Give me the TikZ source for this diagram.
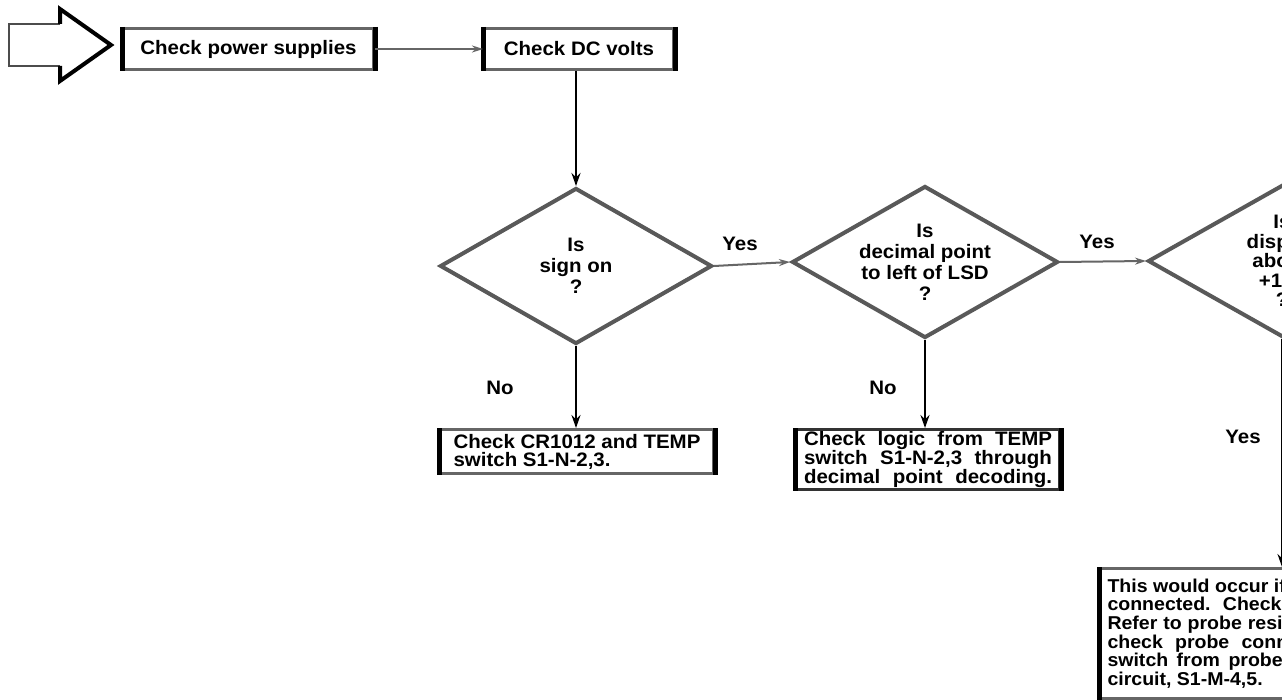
\documentclass[tikz,border=0pt]{standalone}
\usepackage{fontspec}
\setmainfont[FakeStretch=1.05]{Liberation Sans}
\usetikzlibrary{shapes.geometric,arrows.meta}
\begin{document}
\begin{tikzpicture}[x=1pt,y=-1pt,
  txt/.style={font=\bfseries\fontsize{19.5}{18}\selectfont},
  dtxt/.style={font=\bfseries\fontsize{19.5}{21}\selectfont, align=center, inner sep=0pt},
  box/.style={txt, draw=black!60, line width=3pt, inner sep=0pt, anchor=north west},
  boxside/.style={line width=5pt, black},
  dia/.style={diamond, draw=black!65, line width=4pt, inner sep=0pt,
     minimum width=272pt, minimum height=156pt},
  varrow/.style={line width=2.5pt, black, -{Stealth[length=13pt,width=9pt]}},
  harrow/.style={line width=2pt, black!60, -{Stealth[length=11pt,width=7pt]}},
  lab/.style={font=\bfseries\fontsize{19.5}{21}\selectfont, inner sep=0pt}]
\useasboundingbox (0,0) rectangle (1282,700);
\clip (0,0) rectangle (1282,700);
\fill[white] (0,0) rectangle (1282,700);

% entry arrow
\draw[black!70, line width=2.5pt, line join=miter]
  (60,24) -- (9,24) -- (9,66) -- (60,66);
\draw[black, line width=4pt, line join=miter]
  (60,24) -- (60,9) -- (111,45) -- (60,81) -- (60,66);

% boxes
\node[box, minimum width=250pt, minimum height=41pt] (b1) at (122,27) {Check power supplies};
\node[box, minimum width=189pt, minimum height=41pt] (b2) at (483,27) {Check DC volts};
\node[box, minimum width=273pt, minimum height=44pt, align=left] (b4) at (439,428)
  {Check CR1012 and TEMP\\switch S1-N-2,3.};
\node[box, draw=black!80, minimum width=263pt, minimum height=60pt, align=left] (b5) at (795,428)
  {\makebox[248pt][s]{Check logic from TEMP}\\
   \makebox[248pt][s]{switch S1-N-2,3 through}\\
   \makebox[248pt][s]{decimal point decoding.}};
\node[box, font=\bfseries\fontsize{18.6}{18.6}\selectfont, minimum width=310pt, minimum height=130pt,
      align=left, inner xsep=5pt] (b3) at (1099,567)
  {\makebox[296pt][s]{This would occur if probe is not}\\
   \makebox[296pt][s]{connected.\ \ Check probe cable.}\\
   \makebox[296pt][s]{Refer to probe resistance chart,}\\
   \makebox[296pt][s]{check probe connections and}\\
   \makebox[296pt][s]{switch from probe to the input}\\
   circuit, S1-M-4,5.};
\foreach \n in {b1,b2,b4,b5,b3}
  \draw[boxside] (\n.north west) -- (\n.south west) (\n.north east) -- (\n.south east);

% diamonds
\node[dia, label={[dtxt]center:Is\\sign on\\?}] (d1) at (576,266) {};
\node[dia, minimum width=266pt, minimum height=152pt,
      label={[dtxt]center:Is\\decimal point\\to left of LSD\\?}] (d2) at (925,262) {};
\node[dia, minimum width=268pt, minimum height=152pt,
      label={[dtxt, font=\bfseries\fontsize{19.5}{19.5}\selectfont]center:Is\\display\\above\\+150\\?}] (d3) at (1282,261) {};

% connectors
\draw[harrow] (b1.east) -- (b2.west);
\draw[varrow] (b2.south -| d1.north) -- (d1.north);
\draw[harrow] (d1.east) -- (d2.west);
\draw[harrow] (d2.east) -- (d3.west);
\draw[varrow] (d1.south) -- (d1.south |- b4.north);
\draw[varrow] (d2.south) -- (d2.south |- b5.north);
\draw[varrow] (d3.south) -- (d3.south |- b3.north);

% labels
\node[lab] (y1) at (740,244) {Yes};
\node[lab] (y2) at (1097,242) {Yes};
\node[lab] (y3) at (1243,437) {Yes};
\node[lab] (n1) at (500,388) {No};
\node[lab] (n2) at (883,388) {No};
\end{tikzpicture}
\end{document}
